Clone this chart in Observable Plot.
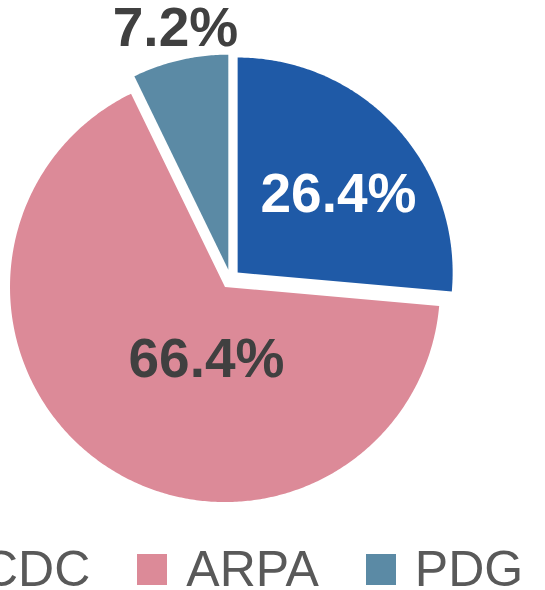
<!DOCTYPE html>
<html>
<head>
<meta charset="utf-8">
<script src="https://cdn.jsdelivr.net/npm/d3@7"></script>
<script src="https://cdn.jsdelivr.net/npm/@observablehq/plot@0.6"></script>
<style>
  html, body { margin: 0; padding: 0; background: #fff; width: 545px; height: 590px; overflow: hidden; position: relative; }
  #chart { position: absolute; left: 0; top: 0; }
  .legend { position: absolute; top: 540px; left: -67px; display: flex; align-items: center; white-space: nowrap;
            font-family: "Liberation Sans", Arial, sans-serif; font-size: 50px; color: #595959; }
  .legend .item { display: flex; align-items: center; margin-right: 47px; }
  .legend .sw { width: 30px; height: 31px; margin-right: 19px; }
</style>
</head>
<body>
<div id="chart"></div>
<div class="legend" id="legend"></div>
<script>
// ---- data ----
const categories = ["CDC", "ARPA", "PDG"];
const shares = [26.4, 66.4, 7.2];
const labels = ["26.4%", "66.4%", "7.2%"];
const colors = ["#1f5aa7", "#dc8a98", "#5b8aa5"];
const labelColors = ["#ffffff", "#404040", "#404040"];

// ---- layout (unit-circle coordinates) ----
const explode = 0.045;
const labelPos = [[0.502, 0.395], [-0.112, -0.375], [-0.256, 1.165]];

const arcs = d3.pie().sort(null).value(d => d)(shares);
const pts = [];
arcs.forEach((a, i) => {
  const mid = (a.startAngle + a.endAngle) / 2;
  const ox = explode * Math.sin(mid), oy = explode * Math.cos(mid);
  pts.push({cat: categories[i], x: ox, y: oy});
  const n = Math.max(2, Math.ceil((a.endAngle - a.startAngle) / 0.01));
  for (let k = 0; k <= n; k++) {
    const t = a.startAngle + (a.endAngle - a.startAngle) * k / n;
    pts.push({cat: categories[i], x: ox + Math.sin(t), y: oy + Math.cos(t)});
  }
  pts.push({cat: categories[i], x: ox, y: oy});
});

const labelData = categories.map((c, i) => ({
  cat: c, text: labels[i], color: labelColors[i], x: labelPos[i][0], y: labelPos[i][1]
}));

const plot = Plot.plot({
  width: 545,
  height: 530,
  margin: 0,
  x: {domain: [-1, 1], range: [15, 445], axis: null},
  y: {domain: [-1, 1], range: [493.6, 63.6], axis: null},
  color: {domain: categories, range: colors},
  style: {background: "#fff", overflow: "visible"},
  marks: [
    Plot.line(pts, {x: "x", y: "y", z: "cat", fill: "cat", stroke: "none", curve: "linear"}),
    Plot.text(labelData, {
      x: "x", y: "y", text: "text", fill: d => d.color,
      fontSize: 55, fontWeight: "bold", fontFamily: "Liberation Sans, Arial, sans-serif",
      textAnchor: "middle", lineAnchor: "middle"
    })
  ]
});
document.getElementById("chart").appendChild(plot);

const legend = document.getElementById("legend");
categories.forEach((c, i) => {
  const item = document.createElement("div");
  item.className = "item";
  const sw = document.createElement("div");
  sw.className = "sw";
  sw.style.background = colors[i];
  const tx = document.createElement("span");
  tx.textContent = c;
  item.appendChild(sw);
  item.appendChild(tx);
  legend.appendChild(item);
});
</script>
</body>
</html>
